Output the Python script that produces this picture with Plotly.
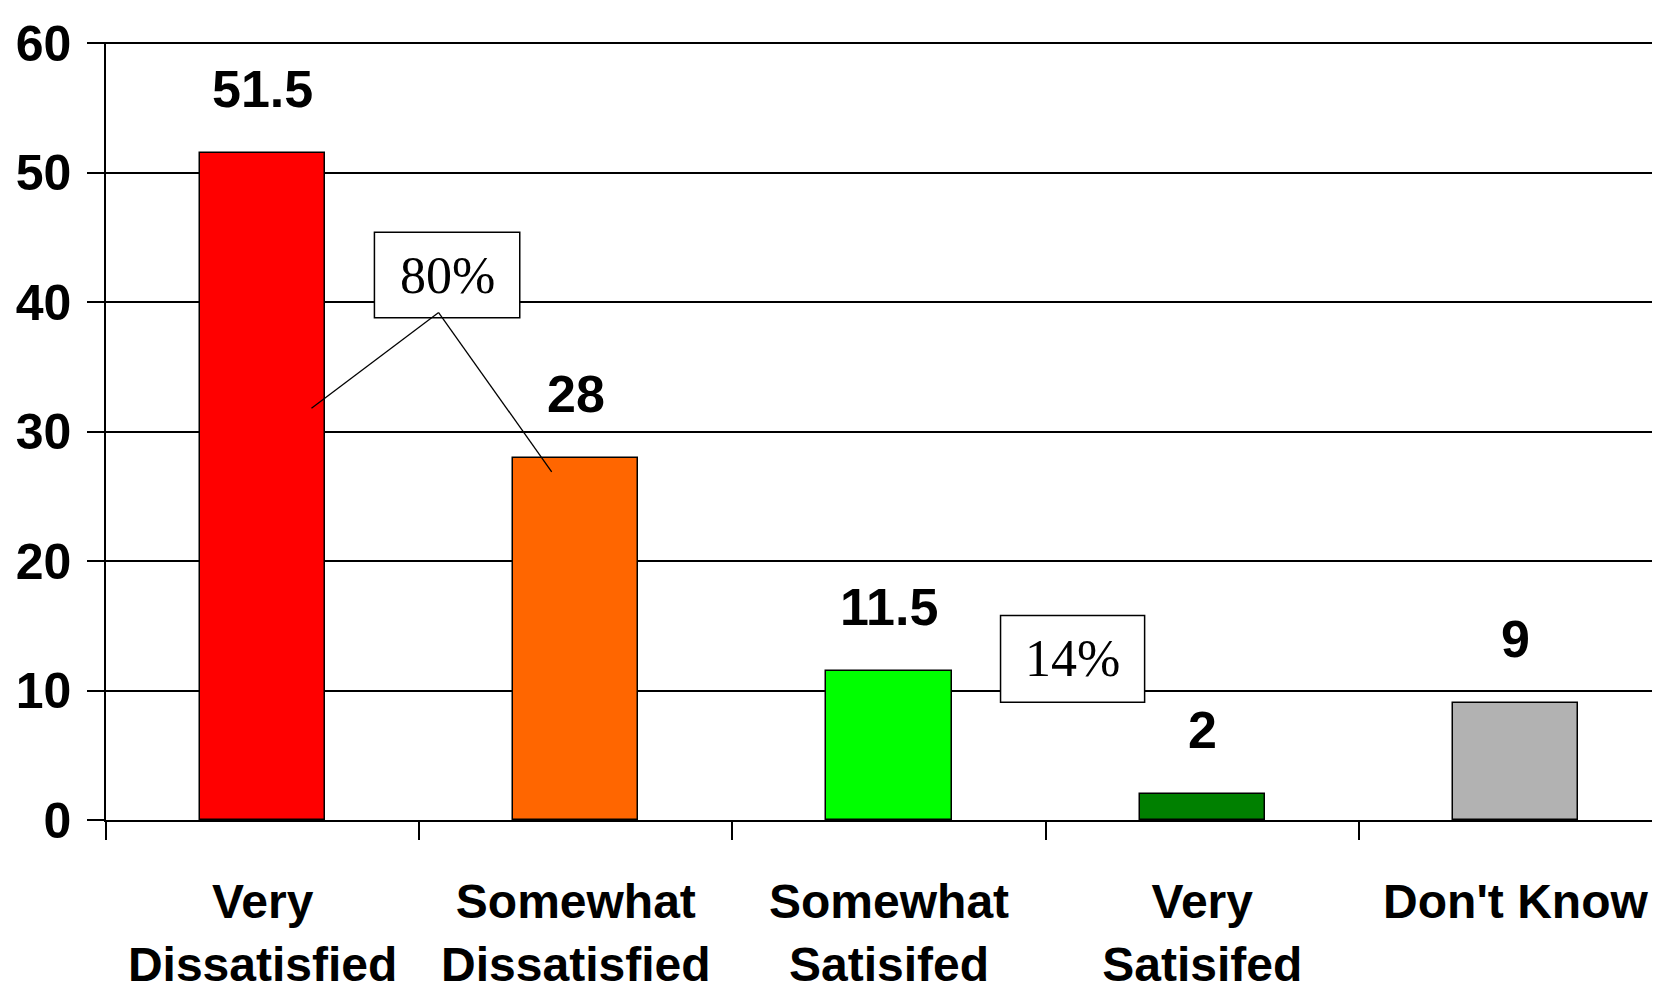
import plotly.graph_objects as go

categories = ["Very<br>Dissatisfied", "Somewhat<br>Dissatisfied", "Somewhat<br>Satisifed", "Very<br>Satisifed", "Don't Know"]
values = [51.5, 28, 11.5, 2, 9]
value_labels = ["51.5", "28", "11.5", "2", "9"]
bar_colors = ["#FF0000", "#FF6600", "#00FF00", "#008000", "#B2B2B2"]
y_ticks = [0, 10, 20, 30, 40, 50, 60]

# callout boxes: (text, x0, x1, y0, y1) in data units
callouts = [("80%", 0.357, 0.821, 38.8, 45.4), ("14%", 2.356, 2.816, 9.1, 15.8)]
# leader lines for 80% callout: apex -> bar ends
leader_apex = (0.562, 39.2)
leader_ends = [(0.156, 31.8), (0.923, 26.9)]

SANS = "Liberation Sans, Arial, sans-serif"
SERIF = "Liberation Serif, Times New Roman, serif"

xs = list(range(len(categories)))

fig = go.Figure()
fig.add_trace(go.Bar(
    x=xs, y=values, width=0.4,
    marker=dict(color=bar_colors, line=dict(color="black", width=1.5)),
    hoverinfo="skip", showlegend=False,
))

for x, v, t in zip(xs, values, value_labels):
    fig.add_annotation(x=x, y=v, text=f"<b>{t}</b>", showarrow=False,
                       yanchor="bottom", yshift=33,
                       font=dict(family=SANS, size=52, color="black"))

for (t, x0, x1, y0, y1) in callouts:
    fig.add_shape(type="rect", x0=x0, x1=x1, y0=y0, y1=y1, xref="x", yref="y",
                  fillcolor="white", line=dict(color="black", width=1.5), layer="above")
    fig.add_annotation(x=(x0 + x1) / 2, y=(y0 + y1) / 2, text=t, showarrow=False,
                       font=dict(family=SERIF, size=52, color="black"))

for (ex, ey) in leader_ends:
    fig.add_shape(type="line", x0=leader_apex[0], y0=leader_apex[1], x1=ex, y1=ey,
                  xref="x", yref="y", line=dict(color="black", width=1.3), layer="above")

fig.update_xaxes(
    type="linear", range=[-0.5, 4.487],
    tickmode="array", tickvals=xs, ticktext=[f"<b>{c}</b>" for c in categories],
    ticks="", showgrid=False, showline=True, linecolor="black", linewidth=1.5,
    tickfont=dict(family=SANS, size=48, color="black"), tickangle=0,
    zeroline=False, automargin=False, ticklabelstandoff=39,
)
fig.update_xaxes(minor=dict(tickmode="array", tickvals=[-0.5, 0.5, 1.5, 2.5, 3.5],
                            ticks="outside", ticklen=18, tickcolor="black", tickwidth=1.5, showgrid=False))
fig.update_yaxes(
    range=[0, 60.1], tickvals=y_ticks, ticktext=[f"<b>{v}</b>" for v in y_ticks],
    ticks="outside", ticklen=17, tickcolor="black", tickwidth=1.5,
    showgrid=True, gridcolor="black", gridwidth=1.5,
    showline=True, linecolor="black", linewidth=1.5, zeroline=False,
    tickfont=dict(family=SANS, size=50, color="black"), ticklabelstandoff=6,
    automargin=False,
)

fig.update_layout(
    width=1660, height=992,
    margin=dict(l=98, r=0, t=34, b=180),
    plot_bgcolor="white", paper_bgcolor="white",
    bargap=0,
)

fig.write_html("out.html")
